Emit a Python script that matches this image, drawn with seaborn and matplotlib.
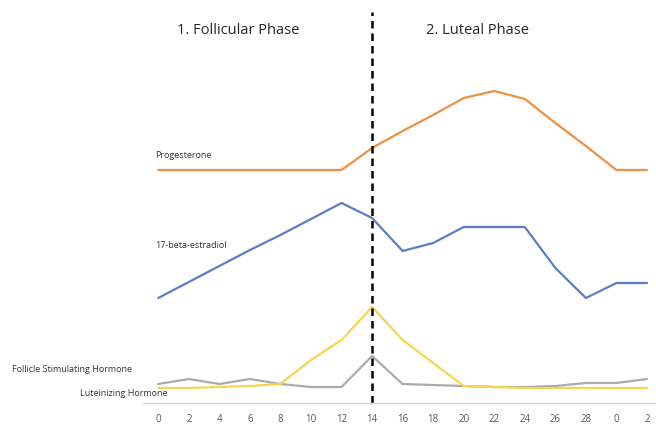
import numpy as np
import pandas as pd
import seaborn as sns
import matplotlib.pyplot as plt

# Jours du cycle (étiquettes de l'axe x)
day_labels = ["0", "2", "4", "6", "8", "10", "12", "14", "16", "18",
              "20", "22", "24", "26", "28", "0", "2"]

# Niveaux relatifs
progesterone = [233, 233, 233, 233, 233, 233, 233, 255, 272, 288,
                305, 312, 304, 280, 257, 233, 233]
estradiol = [105, 121, 137, 153, 168, 184, 200, 185, 152, 160,
             176, 176, 176, 135, 105, 120, 120]
fsh = [19, 24, 19, 24, 19, 16, 16, 47, 19, 18,
       17, 16, 16, 17, 20, 20, 24]
lh = [15, 15, 16, 17, 19, 43, 63, 96, 63, 40,
      17, 16, 15, 15, 15, 15, 15]

series = {
    "Progesterone": progesterone,
    "17-beta-estradiol": estradiol,
    "Follicle Stimulating Hormone": fsh,
    "Luteinizing Hormone": lh,
}
colors = {
    "Progesterone": "#F0903F",
    "17-beta-estradiol": "#5A7EC8",
    "Follicle Stimulating Hormone": "#ABABAB",
    "Luteinizing Hormone": "#F5D64C",
}

rows = []
for name, vals in series.items():
    for i, v in enumerate(vals):
        rows.append({"idx": i, "level": v, "hormone": name})
df = pd.DataFrame(rows)

sns.set_style("white")
plt.rcParams['font.family'] = ['Open Sans', 'DejaVu Sans']

fig = plt.figure(figsize=(6.56, 4.28), dpi=100)
ax = fig.add_axes([143 / 656, 25 / 428, 513 / 656, 403 / 428])

# ordre de tracé : gris puis jaune par-dessus
for name in ["Progesterone", "17-beta-estradiol",
             "Follicle Stimulating Hormone", "Luteinizing Hormone"]:
    sns.lineplot(data=df[df.hormone == name], x="idx", y="level",
                 color=colors[name], linewidth=1.6, ax=ax, legend=False)

ax.set_xlim(-0.5, 16.295)
ax.set_ylim(0, 403)
ax.set_xticks(range(len(day_labels)))
ax.set_xticklabels(day_labels, fontsize=7, color="#595959")
ax.tick_params(axis="x", length=0, pad=8)
ax.set_yticks([])
ax.set_xlabel("")
ax.set_ylabel("")
for s in ["top", "right", "left"]:
    ax.spines[s].set_visible(False)
ax.spines["bottom"].set_color("#D9D9D9")
ax.spines["bottom"].set_linewidth(1)

# ligne d'ovulation
ax.axvline(7, ymin=0, ymax=0.97, color="black", linestyle=(0, (3, 2)),
           linewidth=1.8)

# étiquettes des courbes
ax.text(-0.1, 248, "Progesterone", fontsize=6.5, color="#333333", va="center")
ax.text(-0.1, 157, "17-beta-estradiol", fontsize=6.5, color="#333333", va="center")
ax.text(-4.78, 33, "Follicle Stimulating Hormone", fontsize=6.5, color="#333333",
        va="center", clip_on=False)
ax.text(0.3, 10, "Luteinizing Hormone", fontsize=6.5, color="#333333",
        va="center", ha="right", clip_on=False)

# titres des phases
fig.text(238 / 656, 1 - 30 / 428, "1. Follicular Phase", fontsize=10.5,
         ha="center", va="center", color="#262626")
fig.text(478 / 656, 1 - 30 / 428, "2. Luteal Phase", fontsize=10.5,
         ha="center", va="center", color="#262626")

fig.savefig("out.png", dpi=100)
